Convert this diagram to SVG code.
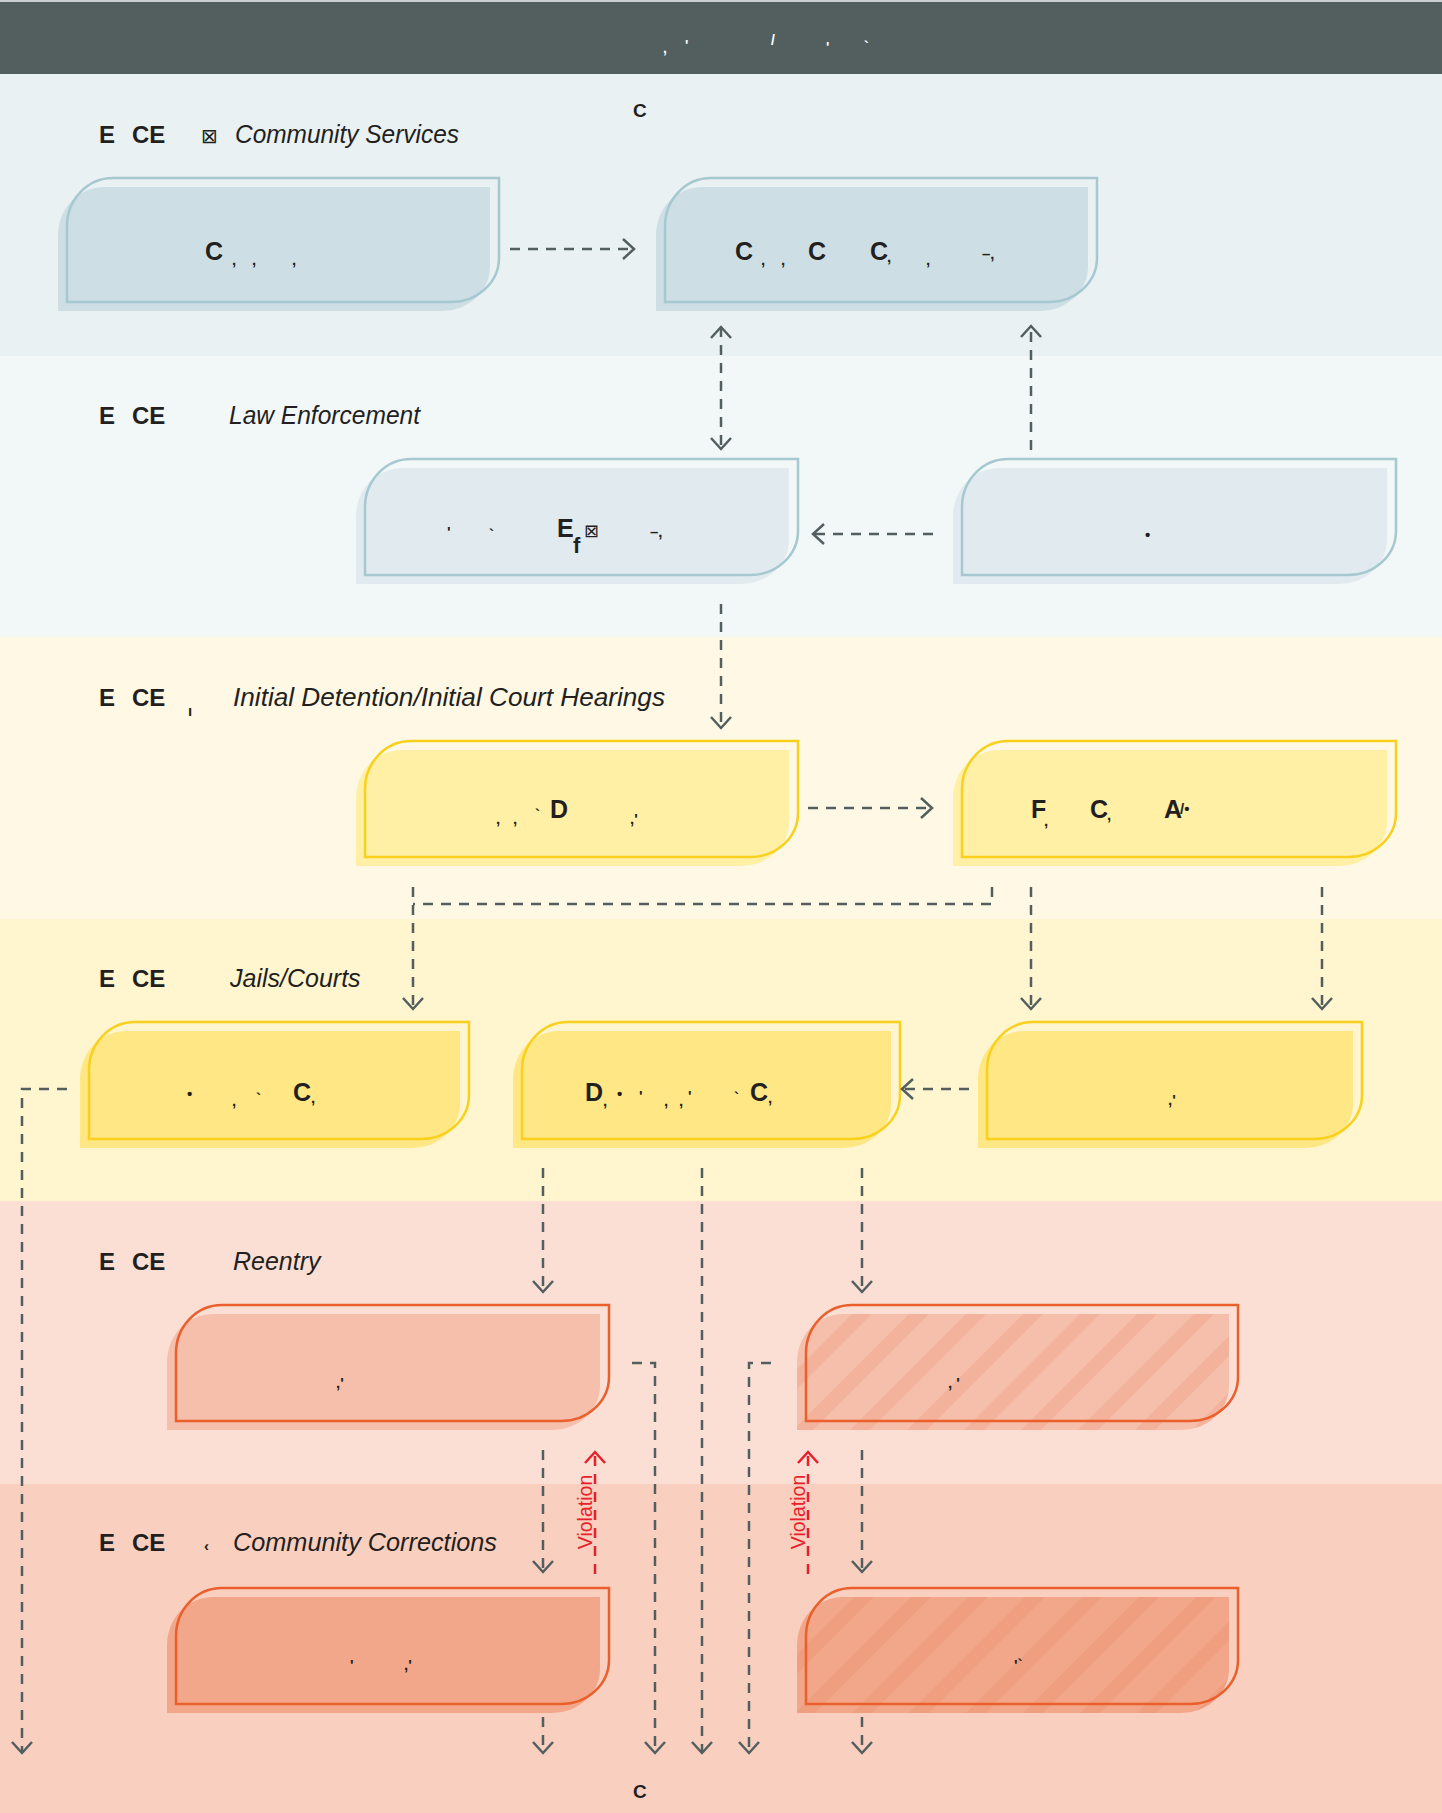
<svg xmlns="http://www.w3.org/2000/svg" width="1442" height="1813" viewBox="0 0 1442 1813">
<style>
.lbl{font-family:"Liberation Sans",Arial,sans-serif;font-weight:bold;font-size:24px;fill:#231f20}
.ttl{font-family:"Liberation Sans",Arial,sans-serif;font-style:italic;font-size:25px;fill:#231f20}
.bt{font-family:"Liberation Sans",Arial,sans-serif;font-weight:bold;font-size:25px;fill:#231f20}
.mk{font-family:"Liberation Sans",Arial,sans-serif;font-weight:bold;font-size:15px;fill:#231f20}
.tofu{font-family:"DejaVu Sans",sans-serif;font-size:20px;fill:#231f20}
.hm{font-family:"Liberation Sans",Arial,sans-serif;font-weight:bold;font-size:14px;fill:#ffffff}
.blue{stroke:#a6c8d1}
.yel{stroke:#f9d01c}
.org{stroke:#ea5f2b}
.ol{fill:none;stroke-width:2.5}
.viol{font-family:"Liberation Sans",Arial,sans-serif;font-size:19.5px;fill:#e8202a}
</style>
<defs>
<marker id="ah" viewBox="-14 -12 17 24" refX="0" refY="0" markerWidth="17" markerHeight="24" markerUnits="userSpaceOnUse" orient="auto-start-reverse">
<path d="M-11,-10 L0,0 L-11,10" fill="none" stroke="#535f5f" stroke-width="2.5"/>
</marker>
<marker id="ahr" viewBox="-14 -12 17 24" refX="0" refY="0" markerWidth="17" markerHeight="24" markerUnits="userSpaceOnUse" orient="auto-start-reverse">
<path d="M-11,-10 L0,0 L-11,10" fill="none" stroke="#e8202a" stroke-width="2.5"/>
</marker>
<pattern id="stripes" patternUnits="userSpaceOnUse" width="57" height="57" patternTransform="skewX(-45)">
<rect x="0" y="0" width="20" height="57" fill="#e0714a" fill-opacity="0.16"/>
</pattern>
</defs>

<!-- bands -->
<g id="bands">
<rect x="0" y="0" width="1442" height="1813" fill="#f9cfbf"/>
<rect x="0" y="0" width="1442" height="74" fill="#535f5f"/>
<rect x="0" y="0" width="1442" height="2" fill="#c9cfcf"/>
<rect x="0" y="74" width="1442" height="282" fill="#e9f1f3"/>
<rect x="0" y="356" width="1442" height="281" fill="#f2f7f8"/>
<rect x="0" y="637" width="1442" height="282" fill="#fef8e5"/>
<rect x="0" y="919" width="1442" height="282" fill="#fff5cf"/>
<rect x="0" y="1201" width="1442" height="283" fill="#fbdfd5"/>
<rect x="0" y="1484" width="1442" height="329" fill="#f9cfbf"/>
</g>

<g id="header-text">
<text class="hm"><tspan x="663" y="53">,</tspan><tspan x="685" y="50">'</tspan><tspan x="771" y="45">/</tspan><tspan x="826" y="52">'</tspan><tspan x="864" y="52">`</tspan></text>
<text class="bt" x="633" y="117" style="font-size:19px">C</text>
<text class="bt" x="633" y="1798" style="font-size:19px">C</text>
</g>

<!-- intercept labels -->
<g id="label-0"><text class="lbl"><tspan x="99" y="143">E</tspan><tspan x="132" y="143">CE</tspan></text><text class="tofu" x="201" y="143">⊠</text><text class="ttl" x="235" y="143" textLength="224" lengthAdjust="spacingAndGlyphs">Community Services</text></g>
<g id="label-1"><text class="lbl"><tspan x="99" y="424">E</tspan><tspan x="132" y="424">CE</tspan></text><text class="ttl" x="229" y="424" textLength="191" lengthAdjust="spacingAndGlyphs">Law Enforcement</text></g>
<g id="label-2"><text class="lbl"><tspan x="99" y="706">E</tspan><tspan x="132" y="706">CE</tspan></text><text class="mk" x="188" y="716">ı</text><text class="ttl" x="233" y="706" textLength="432" lengthAdjust="spacingAndGlyphs">Initial Detention/Initial Court Hearings</text></g>
<g id="label-3"><text class="lbl"><tspan x="99" y="987">E</tspan><tspan x="132" y="987">CE</tspan></text><text class="ttl" x="230" y="987">Jails/Courts</text></g>
<g id="label-4"><text class="lbl"><tspan x="99" y="1270">E</tspan><tspan x="132" y="1270">CE</tspan></text><text class="ttl" x="233" y="1270">Reentry</text></g>
<g id="label-5"><text class="lbl"><tspan x="99" y="1551">E</tspan><tspan x="132" y="1551">CE</tspan></text><text class="mk" x="204" y="1551">‹</text><text class="ttl" x="233" y="1551" textLength="264" lengthAdjust="spacingAndGlyphs">Community Corrections</text></g>

<!-- nodes -->
<g id="node-0-1">
<path transform="translate(-9 9)" fill="#cddfe5" d="M113,178 H499 V258 A48,44 0 0 1 451,302 H67 V226 A46,48 0 0 1 113,178 Z"/>
<path class="ol blue" d="M113,178 H499 V258 A48,44 0 0 1 451,302 H67 V226 A46,48 0 0 1 113,178 Z"/>
<text class="bt" x="205" y="260">C</text>
<text class="mk"><tspan x="232" y="265">,</tspan><tspan x="252" y="265">,</tspan><tspan x="292" y="265">,</tspan></text>
</g>
<g id="node-0-2">
<path transform="translate(-9 9)" fill="#cddfe5" d="M711,178 H1097 V258 A48,44 0 0 1 1049,302 H665 V226 A46,48 0 0 1 711,178 Z"/>
<path class="ol blue" d="M711,178 H1097 V258 A48,44 0 0 1 1049,302 H665 V226 A46,48 0 0 1 711,178 Z"/>
<text class="bt"><tspan x="735" y="260">C</tspan><tspan x="808" y="260">C</tspan><tspan x="870" y="260">C</tspan></text>
<text class="mk"><tspan x="761" y="265">,</tspan><tspan x="781" y="265">,</tspan><tspan x="887" y="262">,</tspan><tspan x="926" y="265">,</tspan><tspan x="982" y="259">–,</tspan></text>
</g>
<g id="node-1-1">
<path transform="translate(-9 9)" fill="#e1ebef" d="M411,459 H798 V531 A48,44 0 0 1 750,575 H365 V507 A46,48 0 0 1 411,459 Z"/>
<path class="ol blue" d="M411,459 H798 V531 A48,44 0 0 1 750,575 H365 V507 A46,48 0 0 1 411,459 Z"/>
<text class="bt" x="557" y="537">E</text>
<text class="bt" x="573" y="553" style="font-size:22px">f</text>
<text class="tofu" x="584" y="537" style="font-size:18px">⊠</text>
<text class="mk"><tspan x="447" y="537">'</tspan><tspan x="489" y="540">`</tspan><tspan x="650" y="537">–,</tspan></text>
</g>
<g id="node-1-2">
<path transform="translate(-9 9)" fill="#e1ebef" d="M1008,459 H1396 V531 A48,44 0 0 1 1348,575 H962 V507 A46,48 0 0 1 1008,459 Z"/>
<path class="ol blue" d="M1008,459 H1396 V531 A48,44 0 0 1 1348,575 H962 V507 A46,48 0 0 1 1008,459 Z"/>
<text class="mk" x="1145" y="540">•</text>
</g>
<g id="node-2-1">
<path transform="translate(-9 9)" fill="#fff0a6" d="M411,741 H798 V813 A48,44 0 0 1 750,857 H365 V789 A46,48 0 0 1 411,741 Z"/>
<path class="ol yel" d="M411,741 H798 V813 A48,44 0 0 1 750,857 H365 V789 A46,48 0 0 1 411,741 Z"/>
<text class="bt" x="550" y="818">D</text>
<text class="mk"><tspan x="496" y="824">,</tspan><tspan x="513" y="824">,</tspan><tspan x="535" y="820">`</tspan><tspan x="630" y="824">,'</tspan></text>
</g>
<g id="node-2-2">
<path transform="translate(-9 9)" fill="#fff0a6" d="M1008,741 H1396 V813 A48,44 0 0 1 1348,857 H962 V789 A46,48 0 0 1 1008,741 Z"/>
<path class="ol yel" d="M1008,741 H1396 V813 A48,44 0 0 1 1348,857 H962 V789 A46,48 0 0 1 1008,741 Z"/>
<text class="bt"><tspan x="1031" y="818">F</tspan><tspan x="1090" y="818">C</tspan><tspan x="1164" y="818">A</tspan></text>
<text class="mk"><tspan x="1044" y="826">,</tspan><tspan x="1107" y="820">,</tspan><tspan x="1180" y="814">/•</tspan></text>
</g>
<g id="node-3-1">
<path transform="translate(-9 9)" fill="#ffe785" d="M135,1022 H469 V1095 A48,44 0 0 1 421,1139 H89 V1070 A46,48 0 0 1 135,1022 Z"/>
<path class="ol yel" d="M135,1022 H469 V1095 A48,44 0 0 1 421,1139 H89 V1070 A46,48 0 0 1 135,1022 Z"/>
<text class="bt" x="293" y="1101">C</text>
<text class="mk"><tspan x="187" y="1099">•</tspan><tspan x="232" y="1106">,</tspan><tspan x="256" y="1104">`</tspan><tspan x="311" y="1103">,</tspan></text>
</g>
<g id="node-3-2">
<path transform="translate(-9 9)" fill="#ffe785" d="M568,1022 H900 V1095 A48,44 0 0 1 852,1139 H522 V1070 A46,48 0 0 1 568,1022 Z"/>
<path class="ol yel" d="M568,1022 H900 V1095 A48,44 0 0 1 852,1139 H522 V1070 A46,48 0 0 1 568,1022 Z"/>
<text class="bt"><tspan x="585" y="1101">D</tspan><tspan x="750" y="1101">C</tspan></text>
<text class="mk"><tspan x="603" y="1106">,</tspan><tspan x="617" y="1099">•</tspan><tspan x="639" y="1101">'</tspan><tspan x="664" y="1106">,</tspan><tspan x="679" y="1106">,</tspan><tspan x="688" y="1101">'</tspan><tspan x="734" y="1103">`</tspan><tspan x="768" y="1103">,</tspan></text>
</g>
<g id="node-3-3">
<path transform="translate(-9 9)" fill="#ffe785" d="M1033,1022 H1362 V1095 A48,44 0 0 1 1314,1139 H987 V1070 A46,48 0 0 1 1033,1022 Z"/>
<path class="ol yel" d="M1033,1022 H1362 V1095 A48,44 0 0 1 1314,1139 H987 V1070 A46,48 0 0 1 1033,1022 Z"/>
<text class="mk" x="1168" y="1105">,'</text>
</g>
<g id="node-4-1">
<path transform="translate(-9 9)" fill="#f6bfab" d="M222,1305 H609 V1377 A48,44 0 0 1 561,1421 H176 V1353 A46,48 0 0 1 222,1305 Z"/>
<path class="ol org" d="M222,1305 H609 V1377 A48,44 0 0 1 561,1421 H176 V1353 A46,48 0 0 1 222,1305 Z"/>
<text class="mk" x="336" y="1388">,'</text>
</g>
<g id="node-4-2">
<path transform="translate(-9 9)" fill="#f6bfab" d="M852,1305 H1238 V1377 A48,44 0 0 1 1190,1421 H806 V1353 A46,48 0 0 1 852,1305 Z"/>
<path transform="translate(-9 9)" fill="url(#stripes)" d="M852,1305 H1238 V1377 A48,44 0 0 1 1190,1421 H806 V1353 A46,48 0 0 1 852,1305 Z"/>
<path class="ol org" d="M852,1305 H1238 V1377 A48,44 0 0 1 1190,1421 H806 V1353 A46,48 0 0 1 852,1305 Z"/>
<text class="mk" x="948" y="1388">, '</text>
</g>
<g id="node-5-1">
<path transform="translate(-9 9)" fill="#f3a78a" d="M222,1588 H609 V1660 A48,44 0 0 1 561,1704 H176 V1636 A46,48 0 0 1 222,1588 Z"/>
<path class="ol org" d="M222,1588 H609 V1660 A48,44 0 0 1 561,1704 H176 V1636 A46,48 0 0 1 222,1588 Z"/>
<text class="mk"><tspan x="350" y="1670">'</tspan><tspan x="404" y="1670">,'</tspan></text>
</g>
<g id="node-5-2">
<path transform="translate(-9 9)" fill="#f3a78a" d="M852,1588 H1238 V1660 A48,44 0 0 1 1190,1704 H806 V1636 A46,48 0 0 1 852,1588 Z"/>
<path transform="translate(-9 9)" fill="url(#stripes)" d="M852,1588 H1238 V1660 A48,44 0 0 1 1190,1704 H806 V1636 A46,48 0 0 1 852,1588 Z"/>
<path class="ol org" d="M852,1588 H1238 V1660 A48,44 0 0 1 1190,1704 H806 V1636 A46,48 0 0 1 852,1588 Z"/>
<text class="mk" x="1014" y="1670">'`</text>
</g>

<!-- connectors -->
<g id="connectors" fill="none" stroke="#535f5f" stroke-width="2.5" stroke-dasharray="10 8">
<path d="M510,249 H634" marker-end="url(#ah)"/>
<path d="M721,327 V449" marker-start="url(#ah)" marker-end="url(#ah)"/>
<path d="M1031,450 V326" marker-end="url(#ah)"/>
<path d="M933,534 H813" marker-end="url(#ah)"/>
<path d="M721,604 V728" marker-end="url(#ah)"/>
<path d="M808,808 H932" marker-end="url(#ah)"/>
<path d="M992,887 V904 H413"/>
<path d="M413,887 V1009" marker-end="url(#ah)"/>
<path d="M1031,887 V1009" marker-end="url(#ah)"/>
<path d="M1322,887 V1009" marker-end="url(#ah)"/>
<path d="M969,1089 H902" marker-end="url(#ah)"/>
<path d="M67,1089 H22 V1753" marker-end="url(#ah)"/>
<path d="M543,1168 V1292" marker-end="url(#ah)"/>
<path d="M862,1168 V1292" marker-end="url(#ah)"/>
<path d="M702,1168 V1753" marker-end="url(#ah)"/>
<path d="M632,1363 H655 V1753" marker-end="url(#ah)"/>
<path d="M771,1363 H749 V1753" marker-end="url(#ah)"/>
<path d="M543,1450 V1572" marker-end="url(#ah)"/>
<path d="M862,1450 V1572" marker-end="url(#ah)"/>
<path d="M543,1717 V1753" marker-end="url(#ah)"/>
<path d="M862,1717 V1753" marker-end="url(#ah)"/>
<path d="M595,1574 V1452" stroke="#e8202a" marker-end="url(#ahr)"/>
<path d="M808,1574 V1452" stroke="#e8202a" marker-end="url(#ahr)"/>
</g>
<g id="violation-labels">
<text class="viol" transform="translate(592 1512) rotate(-90)" text-anchor="middle">Violation</text>
<text class="viol" transform="translate(805 1512) rotate(-90)" text-anchor="middle">Violation</text>
</g>
</svg>
